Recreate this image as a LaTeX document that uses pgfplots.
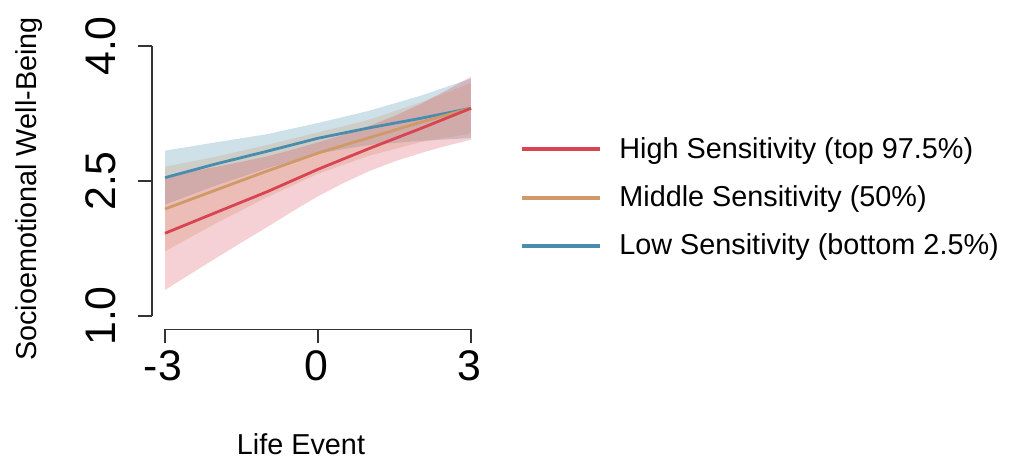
\documentclass[border=0pt]{standalone}
\usepackage{fontspec}
\setmainfont{Liberation Sans}
\usepackage{pgfplots}
\pgfplotsset{compat=1.18}
\definecolor{cred}{HTML}{D94452}
\definecolor{corange}{HTML}{CF9A68}
\definecolor{cblue}{HTML}{4A8CAB}
\begin{document}
\begin{tikzpicture}
\useasboundingbox (0,0) rectangle (506.5pt,229.5pt);
\begin{axis}[
  at={(76pt,64.85pt)}, anchor=south west,
  scale only axis, width=166pt, height=147.05pt,
  xmin=-3.255, xmax=3.255, ymin=0.852, ymax=4.12,
  clip=false,
  axis line style={draw=none},
  xtick={-3,0,3}, xticklabels={-3,0,3},
  ytick={1,2.5,4}, yticklabels={1.0,2.5,4.0},
  xtick pos=left, ytick pos=left,
  tick align=outside, major tick length=6.75pt,
  tick style={black!80, line width=0.65pt},
  ticklabel style={font=\fontsize{21.4}{21.4}\selectfont, inner sep=0pt},
  xticklabel style={anchor=north, yshift=-3.5pt, xshift=-1pt},
  yticklabel style={rotate=90, anchor=base, yshift=11.5pt},
  xlabel={Life Event},
  ylabel={Socioemotional Well-Being},
  label style={font=\fontsize{14.4}{14.4}\selectfont, inner sep=0pt},
  xlabel style={at={(axis description cs:0.4488,-0.4274)}, anchor=base},
  ylabel style={at={(axis description cs:-0.3473,0.4768)}, anchor=base},
  legend style={at={(1.1085,0.4480)}, anchor=west, draw=none, fill=none,
    inner sep=0pt, font=\fontsize{14.4}{14.4}\selectfont,
    row sep=12.25pt, column sep=8.5pt, nodes={inner sep=0pt}},
  legend cell align=left,
  reverse legend,
  legend image code/.code={\draw[#1, line width=2pt] (0pt,0pt) -- (39pt,0pt);},
]
% bands
\addplot[draw=none, fill=cblue, fill opacity=0.27, forget plot] coordinates {
 (-3,2.837) (-2,2.93) (-1,3.02) (0,3.145) (1,3.28) (2,3.445) (3,3.638)
 (3,2.978) (2,2.945) (1,2.90) (0,2.805) (-1,2.64) (-2,2.45) (-3,2.237)} -- cycle;
\addplot[draw=none, fill=corange, fill opacity=0.25, forget plot] coordinates {
 (-3,2.659) (-2,2.77) (-1,2.90) (0,3.04) (1,3.18) (2,3.37) (3,3.588)
 (3,3.028) (2,2.93) (1,2.78) (0,2.58) (-1,2.32) (-2,2.03) (-3,1.719)} -- cycle;
\addplot[draw=none, fill=cred, fill opacity=0.25, forget plot] coordinates {
 (-3,2.549) (-2.5,2.603) (-2,2.657) (-1.5,2.713) (-1,2.773) (-0.5,2.848) (0,2.930)
 (0.5,3.013) (1,3.111) (1.5,3.223) (2,3.352) (2.5,3.500) (3,3.658)
 (3,2.958) (2.5,2.888) (2,2.808) (1.5,2.717) (1,2.609) (0.5,2.477) (0,2.330)
 (-0.5,2.162) (-1,1.987) (-1.5,1.817) (-2,1.643) (-2.5,1.467) (-3,1.289)} -- cycle;
% lines
\addplot[cblue, line width=1.4pt] coordinates {
 (-3,2.537) (-2,2.69) (-1,2.83) (0,2.975) (1,3.09) (2,3.195) (3,3.308)};
\addlegendentry{Low Sensitivity (bottom 2.5\%)}
\addplot[corange, line width=1.4pt] coordinates {
 (-3,2.189) (-2,2.40) (-1,2.61) (0,2.81) (1,2.98) (2,3.15) (3,3.308)};
\addlegendentry{Middle Sensitivity (50\%)}
\addplot[cred, line width=1.4pt] coordinates {
 (-3,1.919) (-2,2.15) (-1,2.38) (0,2.63) (1,2.86) (2,3.08) (3,3.308)};
\addlegendentry{High Sensitivity (top 97.5\%)}
% R-style axis lines
\draw[black!80, line width=0.65pt] (axis cs:-3,0.852) -- (axis cs:3,0.852);
\draw[black!80, line width=0.65pt] (axis cs:-3.255,1) -- (axis cs:-3.255,4);
\end{axis}
\end{tikzpicture}
\end{document}
